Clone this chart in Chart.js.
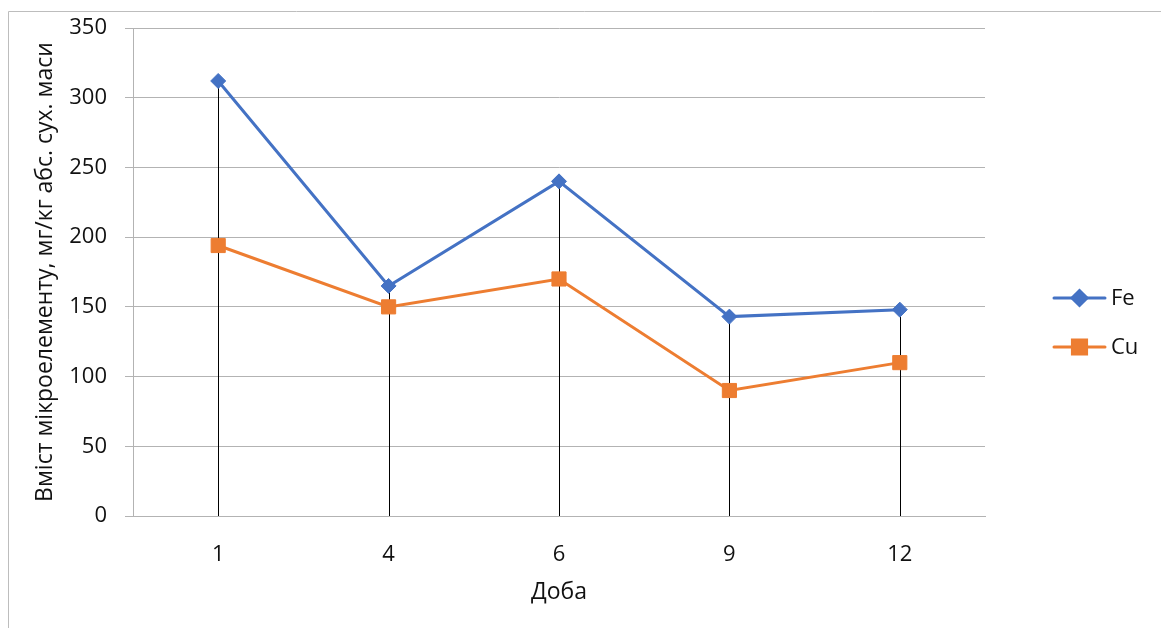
<!DOCTYPE html>
<html>
<head>
<meta charset="utf-8">
<script src="https://cdn.jsdelivr.net/npm/chart.js@4"></script>
<style>
  html, body { margin: 0; padding: 0; background: #fff; }
  #wrap { width: 1161px; height: 628px; position: relative; }
</style>
</head>
<body>
<div id="wrap"><canvas id="chart" width="1161" height="628"></canvas></div>
<script>
const days = ["1", "4", "6", "9", "12"];
const fe = [312, 165, 240, 143, 148];
const cu = [194, 150, 170, 90, 110];
const yTicks = [0, 50, 100, 150, 200, 250, 300, 350];

const FONT = "'Open Sans', sans-serif";
const gridGray = "#b3b3b3";

// frame line at the top and left edge
const framePlugin = {
  id: "frame",
  beforeDraw(chart) {
    const ctx = chart.ctx;
    ctx.save();
    ctx.strokeStyle = "#bdbdbd";
    ctx.lineWidth = 1;
    ctx.beginPath();
    ctx.moveTo(8.5, chart.height);
    ctx.lineTo(8.5, 11.5);
    ctx.lineTo(chart.width, 11.5);
    ctx.stroke();
    ctx.restore();
  }
};

// drop lines from the highest point down to the x axis
const dropLines = {
  id: "dropLines",
  beforeDatasetsDraw(chart) {
    const ctx = chart.ctx;
    const bottom = chart.scales.y.getPixelForValue(0);
    ctx.save();
    ctx.strokeStyle = "#000";
    ctx.lineWidth = 1;
    days.forEach((d, i) => {
      let top = bottom;
      chart.data.datasets.forEach((ds, k) => {
        const pt = chart.getDatasetMeta(k).data[i];
        if (pt && pt.y < top) top = pt.y;
      });
      const x = Math.round(chart.getDatasetMeta(0).data[i].x) + 0.5;
      ctx.beginPath();
      ctx.moveTo(x, top);
      ctx.lineTo(x, bottom);
      ctx.stroke();
    });
    ctx.restore();
  }
};

// legend on the right, drawn like the Excel one
const sideLegend = {
  id: "sideLegend",
  afterDraw(chart) {
    const ctx = chart.ctx;
    const rows = [298, 347];
    ctx.save();
    chart.data.datasets.forEach((ds, k) => {
      const y = rows[k];
      ctx.strokeStyle = ds.borderColor;
      ctx.lineWidth = 3;
      ctx.lineCap = "round";
      ctx.beginPath();
      ctx.moveTo(1054, y);
      ctx.lineTo(1105, y);
      ctx.stroke();
      Chart.helpers.drawPoint(ctx, {
        pointStyle: ds.pointStyle,
        radius: ds.pointRadius,
        borderWidth: 1
      }, 1079.5, y);
      ctx.fillStyle = ds.backgroundColor;
      ctx.fill();
      ctx.fillStyle = "#111";
      ctx.font = "22px " + FONT;
      ctx.textBaseline = "middle";
      ctx.textAlign = "left";
      ctx.fillText(ds.label, 1111, y + 1);
    });
    ctx.restore();
  }
};

new Chart(document.getElementById("chart"), {
  type: "line",
  data: {
    labels: days,
    datasets: [
      {
        label: "Fe",
        data: fe,
        borderColor: "#4472C4",
        backgroundColor: "#4472C4",
        borderWidth: 3,
        pointStyle: "rectRot",
        pointRadius: 7.5,
        pointBorderWidth: 1,
        tension: 0
      },
      {
        label: "Cu",
        data: cu,
        borderColor: "#ED7D31",
        backgroundColor: "#ED7D31",
        borderWidth: 3,
        pointStyle: "rect",
        pointRadius: 10,
        pointBorderWidth: 1,
        tension: 0
      }
    ]
  },
  options: {
    responsive: false,
    devicePixelRatio: 1,
    animation: false,
    layout: { padding: { top: 28, right: 176, bottom: 0, left: 0 } },
    plugins: {
      legend: { display: false },
      tooltip: { enabled: false }
    },
    scales: {
      x: {
        offset: true,
        grid: { display: false, drawTicks: false },
        border: { display: true, color: gridGray, width: 1 },
        ticks: { color: "#111", font: { family: FONT, size: 22 }, padding: 26 },
        title: {
          display: true,
          text: "Доба",
          color: "#111",
          font: { family: FONT, size: 23 },
          padding: { top: 0, bottom: 22 }
        },
        afterFit(scale) { scale.height = 112; }
      },
      y: {
        min: 0,
        max: 350,
        afterBuildTicks(scale) { scale.ticks = yTicks.map(v => ({ value: v })); },
        grid: { color: gridGray, lineWidth: 1, drawTicks: true, tickLength: 8 },
        border: { display: true, color: gridGray, width: 1 },
        ticks: { color: "#111", font: { family: FONT, size: 22 }, padding: 18 },
        title: {
          display: true,
          text: "Вміст мікроелементу, мг/кг абс. сух. маси",
          color: "#111",
          font: { family: FONT, size: 23 },
          padding: { top: 32, bottom: 0 }
        },
        afterFit(scale) {
          scale.width = 133;
          scale.paddingTop = 0;
          scale.paddingBottom = 0;
        }
      }
    }
  },
  plugins: [framePlugin, dropLines, sideLegend]
});
</script>
</body>
</html>
